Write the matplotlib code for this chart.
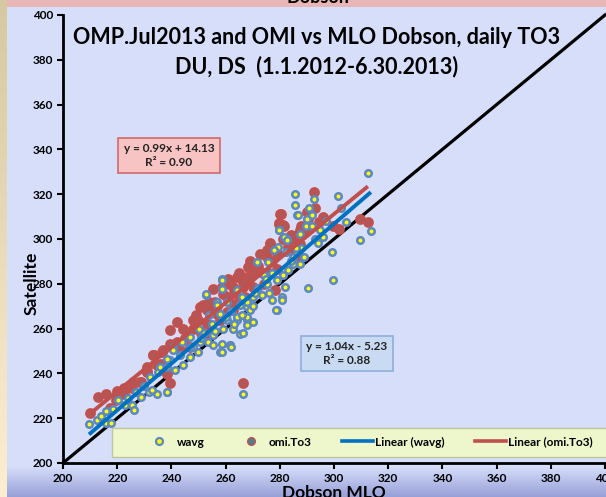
import numpy as np
import matplotlib
matplotlib.use("Agg")
import matplotlib.pyplot as plt
from matplotlib.lines import Line2D
from matplotlib.patches import Rectangle

# ---------------- data ----------------
wavg_x = [209.6,212.5,215.9,217.7,215.9,220.3,222.9,225.5,226.2,228.8,231.7,234.7,238.4,232.1,235.2,238.3,239.5,240.7,232.7,238.5,214.0,218.5,224.0,230.0,227.0,
          252.6,258.5,258.5,256.7,260.6,264.1,265.9,267.8,257.9,260.6,264.1,267.8,262.8,265.3,255.5,258.5,261.6,257.9,253.6,250.5,249.9,246.8,244.4,241.3,240.7,238.2,235.8,246.8,
          255.4,258.7,261.6,266.4,267.9,270.1,279.0,290.4,280.8,
          299.6,278.6,262.0,266.4,299.3,
          286.5,289.9,279.7,282.8,287.5,287.5,285.0,275.8,271.5,279.5,282.3,258.5,252.8,256.7,265.3,270.2,273.3,275.2,278.8,281.9,277.0,280.7,269.0,264.1,267.8,
          312.5,285.6,292.6,301.5,285.6,302.6,290.8,286.7,304.4,290.0,292.0,313.6,309.6,279.7,281.5,282.6,289.7,291.9,278.0,
          243.0,248.0,252.0,255.0,259.0,262.0,266.0,270.0,272.0,274.0,276.0,283.0,285.0,288.0,293.0,295.0,297.0,244.0,250.0,254.0,
          247.0,251.0,256.0,260.0,263.0,268.0,271.0,275.0,277.0,281.0,284.0,286.0,289.0,294.0,296.0]
wavg_y = [217.4,219.0,217.8,217.8,223.0,228.0,225.9,225.9,223.6,229.4,231.7,230.8,231.7,238.5,240.7,242.9,245.9,251.8,232.5,231.8,221.0,224.0,229.0,234.5,231.5,
          274.9,282.3,277.8,271.9,271.9,277.1,274.1,269.7,266.7,263.7,263.7,263.7,260.0,257.8,257.0,253.3,252.6,249.6,254.0,254.0,249.6,247.4,243.6,241.4,250.3,246.6,242.9,256.3,
          252.6,249.5,252.6,258.0,261.5,262.9,268.2,278.0,274.0,
          281.6,268.2,252.0,230.8,294.0,
          310.6,306.1,303.9,300.2,302.4,289.0,289.0,289.8,289.8,296.5,294.2,281.6,275.6,270.4,270.4,274.1,274.9,280.1,281.6,278.6,272.7,272.7,268.2,265.2,265.2,
          329.3,320.0,317.7,319.0,315.0,314.0,313.7,310.6,307.4,309.0,310.6,303.4,299.4,304.0,301.0,299.4,306.0,305.7,295.0,
          248.0,252.0,258.0,262.0,260.0,268.0,266.0,270.0,278.0,284.0,276.0,286.0,292.0,296.0,300.0,304.0,308.0,254.0,260.0,266.0,
          252.0,256.0,259.0,265.0,262.0,272.0,276.0,282.0,285.0,284.0,290.0,296.0,292.0,298.0,301.0]

omi_x = [212.9,215.9,217.3,222.5,225.5,222.5,228.8,231.0,234.7,236.5,233.2,233.4,239.5,230.9,228.4,238.3,239.5,210.0,219.5,
         233.3,237.0,239.5,241.9,244.4,248.1,249.9,250.5,251.8,254.2,256.7,253.0,260.4,262.8,265.3,266.5,267.8,261.6,259.2,235.8,230.9,243.2,246.8,253.0,
         280.1,279.7,281.3,276.4,272.7,275.2,268.4,269.0,264.1,255.5,258.5,262.9,266.5,270.2,273.9,278.8,283.8,287.5,289.9,278.2,253.0,260.4,262.9,
         292.6,280.4,279.7,281.5,291.0,290.4,294.5,299.6,301.8,309.6,312.5,287.5,289.3,286.3,276.4,275.3,279.0,283.0,283.8,287.5,
         266.4,
         245.0,248.0,251.0,256.0,258.0,263.0,267.0,271.0,274.0,277.0,285.0,288.0,293.0,296.0,242.0,236.0,226.0,220.0,
         249.0,254.0,257.0,261.0,265.0,269.0,272.0,276.0,281.0,284.0,290.0]
omi_y = [229.4,230.8,224.5,233.4,233.4,230.8,236.0,240.6,243.7,249.5,248.2,248.1,253.3,240.7,236.2,239.9,235.5,222.5,228.0,
         248.1,250.3,259.3,263.0,260.0,260.0,263.7,269.7,270.4,268.2,266.7,262.2,267.4,271.1,272.6,278.6,283.0,280.1,275.6,241.4,242.9,250.3,251.8,257.0,
         311.3,306.9,306.1,297.9,293.5,292.0,287.5,283.1,283.1,277.9,278.6,278.6,280.8,278.6,284.6,286.8,295.0,297.9,312.1,277.1,268.2,274.1,268.2,
         321.0,311.0,307.0,305.7,311.5,309.0,307.4,306.0,304.3,308.8,307.4,303.9,303.0,301.6,298.0,295.0,293.6,296.3,295.0,291.8,
         235.7,
         256.0,264.0,258.0,272.0,264.0,276.0,274.0,286.0,280.0,290.0,300.0,306.0,314.0,310.0,254.0,244.0,236.0,232.0,
         266.0,272.0,270.0,282.0,285.0,290.0,288.0,285.0,300.0,302.0,304.0]

# trend line coefficients as printed on the chart
wavg_fit = (1.04, -5.23, 0.88)
omi_fit = (0.99, 14.13, 0.90)

axis_ticks = list(range(200, 401, 20))
title_lines = ["OMP.Jul2013 and OMI vs MLO Dobson, daily TO3", "DU, DS  (1.1.2012-6.30.2013)"]
legend_labels = ["wavg", "omi.To3", "Linear (wavg)", "Linear (omi.To3)"]

# ---------------- figure ----------------
W, H = 606, 497
FONT = ["Lato", "DejaVu Sans"]
plt.rcParams['font.family'] = FONT

fig = plt.figure(figsize=(W / 100, H / 100), dpi=100)

# background image (lavender with gradients)
bg = fig.add_axes([0, 0, 1, 1])
bg.set_axis_off()
img = np.zeros((H, W, 3))
lav = np.array([214, 222, 250]) / 255
img[:, :] = lav
bot_col = np.array([150, 158, 215]) / 255
gy0 = 466
for r in range(gy0, H):
    t = (r - gy0) / (H - gy0)
    img[r, :] = lav * (1 - t) + bot_col * t
img[:7, :] = np.array([232, 182, 182]) / 255
top_beige = np.array([214, 200, 160]) / 255
bot_beige = np.array([253, 238, 210]) / 255
for r in range(H):
    t = r / H
    img[r, :7] = top_beige * (1 - t) + bot_beige * t
bg.imshow(img, aspect='auto', extent=[0, 1, 0, 1], origin='upper')
bg.set_xlim(0, 1)
bg.set_ylim(0, 1)

fig.text(318 / W, 1 - 6 / H, "Dobson", ha='center', va='bottom', fontsize=13,
         fontweight='bold', color='black')

ax = fig.add_axes([63 / W, (H - 463) / H, (605 - 63) / W, (463 - 15) / H])
ax.set_facecolor('none')
ax.set_xlim(200, 400)
ax.set_ylim(200, 400)
ax.set_xticks(axis_ticks)
ax.set_yticks(axis_ticks)
for s in ['top', 'right']:
    ax.spines[s].set_visible(False)
for s in ['left', 'bottom']:
    ax.spines[s].set_linewidth(2)
    ax.spines[s].set_color('black')
ax.tick_params(direction='out', length=4, width=1.5, colors='black', labelsize=8.5, pad=3)
for lab in ax.get_xticklabels() + ax.get_yticklabels():
    lab.set_fontweight('bold')

# 1:1 line
ax.plot([200, 400], [200, 400], color='black', lw=2.3, zorder=2, clip_on=False)

# scatter
ax.scatter(omi_x, omi_y, s=38, facecolor='#B0575A', edgecolor='#C4504C', linewidths=1.6, zorder=3)
ax.scatter(wavg_x, wavg_y, s=22, facecolor='#FFFF00', edgecolor='#5B87C3', linewidths=1.8, zorder=4)

# trend lines
wx = np.array([min(wavg_x), max(wavg_x)])
ox = np.array([min(omi_x), max(omi_x)])
ax.plot(ox, omi_fit[0] * ox + omi_fit[1], color='#C0504D', lw=2.8, zorder=5, solid_capstyle='butt')
ax.plot(wx, wavg_fit[0] * wx + wavg_fit[1], color='#0070C0', lw=2.8, zorder=6, solid_capstyle='butt')

# equation boxes
ax.text(239.1, 337.3, f"y = {omi_fit[0]:.2f}x + {omi_fit[1]:.2f}\nR\u00b2 = {omi_fit[2]:.2f}",
        ha='center', va='center', fontsize=8.5, fontweight='bold', color='#222222', linespacing=1.3,
        bbox=dict(boxstyle='square,pad=0.45', fc='#F8C3C3', ec='#D06A6A', lw=1.2), zorder=7)
ax.text(304.8, 249.0, f"y = {wavg_fit[0]:.2f}x - {abs(wavg_fit[1]):.2f}\nR\u00b2 = {wavg_fit[2]:.2f}",
        ha='center', va='center', fontsize=8.5, fontweight='bold', color='#222222', linespacing=1.3,
        bbox=dict(boxstyle='square,pad=0.45', fc='#C9DAF3', ec='#8EAEDB', lw=1.2), zorder=7)

# title
ax.text(0.467, 0.949, title_lines[0], transform=ax.transAxes, ha='center', va='center',
        fontsize=15.5, fontweight='bold', color='black', zorder=8)
ax.text(0.467, 0.886, title_lines[1], transform=ax.transAxes, ha='center', va='center',
        fontsize=15.5, fontweight='bold', color='black', zorder=8)

# axis labels
fig.text(32 / W, 1 - 283 / H, "Satellite", rotation=90, ha='center', va='center',
         fontsize=12.5, fontweight='bold')
fig.text(334 / W, 1 - 493 / H, "Dobson MLO", ha='center', va='center',
         fontsize=12.5, fontweight='bold')

# legend background box
fig.patches.append(Rectangle((112 / W, 1 - 457 / H), (620 - 112) / W, (457 - 428) / H,
                             transform=fig.transFigure, fc='#EEF6CB', ec='#BFC79A', lw=1.0, zorder=9))
handles = [
    Line2D([], [], ls='none', marker='o', ms=5, mfc='#FFFF00', mec='#5B87C3', mew=1.6),
    Line2D([], [], ls='none', marker='o', ms=5.5, mfc='#4F7F8E', mec='#C4504C', mew=1.0),
    Line2D([], [], color='#0070C0', lw=2.6),
    Line2D([], [], color='#C0504D', lw=2.6),
]
leg = fig.legend(handles, legend_labels, ncol=4, loc='center left',
                 bbox_to_anchor=(138 / W, 1 - 442 / H), frameon=False,
                 prop=dict(family=FONT, weight='bold', size=8.5),
                 handlelength=2.6, handletextpad=0.2, columnspacing=2.6, borderpad=0)
leg.set_zorder(10)

fig.savefig("out.png", dpi=100)
